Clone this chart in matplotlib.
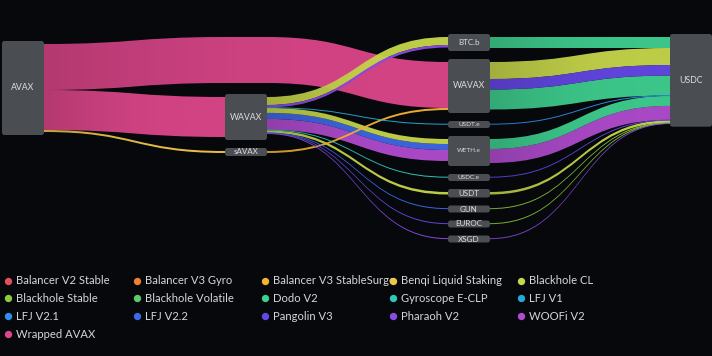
import matplotlib
matplotlib.use("Agg")
import numpy as np
import matplotlib.pyplot as plt
from matplotlib.patches import PathPatch, FancyBboxPatch, Rectangle
from matplotlib.path import Path
from matplotlib.colors import to_rgb

plt.rcParams['font.family'] = ['Lato', 'DejaVu Sans']

# ---------------- data ----------------
protocols = ["Balancer V2 Stable", "Balancer V3 Gyro", "Balancer V3 StableSurge",
             "Benqi Liquid Staking", "Blackhole CL", "Blackhole Stable",
             "Blackhole Volatile", "Dodo V2", "Gyroscope E-CLP", "LFJ V1",
             "LFJ V2.1", "LFJ V2.2", "Pangolin V3", "Pharaoh V2", "WOOFi V2",
             "Wrapped AVAX"]
protocol_colors = ["#e2505c", "#ef8034", "#f3b52f", "#f0c64a", "#c6d64a",
                   "#8bcb3c", "#5fca6a", "#3fcf8f", "#2fc9b8", "#2aa7d6",
                   "#2f8ef0", "#3f68e6", "#6547e6", "#8a4ce4", "#b04ccf",
                   "#dc468a"]

node_labels = ["AVAX", "WAVAX", "sAVAX", "BTC.b", "WAVAX", "USDT.e", "WETH.e",
               "USDC.e", "USDT", "GUN", "EUROC", "XSGD", "USDC"]
node_columns = [0, 1, 1, 2, 2, 2, 2, 2, 2, 2, 2, 2, 3]

link_sources = [0, 0, 0, 2, 1, 1, 1, 1, 1, 1, 1, 1, 1, 1, 1,
                3, 4, 4, 4, 5, 6, 6, 7, 8, 9, 10, 11]
link_targets = [4, 1, 2, 4, 3, 3, 5, 6, 6, 6, 7, 8, 9, 10, 11,
                12, 12, 12, 12, 12, 12, 12, 12, 12, 12, 12, 12]
link_protocols = ["Wrapped AVAX", "Wrapped AVAX", "Benqi Liquid Staking",
                  "Balancer V3 StableSurge",
                  "Blackhole CL", "Pharaoh V2", "LFJ V1", "Blackhole CL",
                  "LFJ V2.2", "WOOFi V2", "Gyroscope E-CLP", "Blackhole CL",
                  "LFJ V2.2", "Pangolin V3", "Pharaoh V2",
                  "Dodo V2", "Blackhole CL", "Pangolin V3", "Dodo V2",
                  "LFJ V2.1", "Dodo V2", "WOOFi V2", "Pangolin V3",
                  "Blackhole CL", "Blackhole Stable", "Blackhole Stable",
                  "Pharaoh V2"]
link_values = [460, 400, 20, 20, 80, 25, 4, 50, 60, 110, 4, 25, 3, 3, 3,
               110, 170, 105, 200, 4, 100, 140, 4, 25, 3, 3, 3]

# ---------------- layout ----------------
W, H = 712, 356
BG = "#06080b"
NODE_C = "#4a4d51"
scale = 0.1          # px per unit
pad = 3
min_h = 7
gap = 8
node_w = 42
col_x = [2, 225, 448, 670]
col_top = [41, 34, 34, 34]

pcolor = dict(zip(protocols, protocol_colors))
n = len(node_labels)
L = len(link_values)
inflow = [0.0] * n
outflow = [0.0] * n
for s, t, v in zip(link_sources, link_targets, link_values):
    outflow[s] += v
    inflow[t] += v

# stacking: dummy pass-through slots for long links first, then real nodes
cur = {c: col_top[c] for c in range(4)}
dummy = {}   # (link, column) -> y of flow top
for k in range(L):
    cs, ct = node_columns[link_sources[k]], node_columns[link_targets[k]]
    for c in range(cs + 1, ct):
        dummy[(k, c)] = cur[c] + pad
        cur[c] += link_values[k] * scale + 2 * pad + gap

node_y0 = [0.0] * n
node_h = [0.0] * n
for i in range(n):
    c = node_columns[i]
    h = max(max(inflow[i], outflow[i]) * scale + 2 * pad, min_h)
    node_y0[i] = cur[c]
    node_h[i] = h
    cur[c] += h + gap
node_x0 = [col_x[c] for c in node_columns]
node_x1 = [min(col_x[c] + node_w, W) for c in node_columns]
center = [node_y0[i] + node_h[i] / 2 for i in range(n)]


def first_hop_y(k, at_source):
    # vertical reference of the other end (dummy slot if present)
    s, t = link_sources[k], link_targets[k]
    cs, ct = node_columns[s], node_columns[t]
    if at_source:
        return dummy.get((k, cs + 1), center[t])
    return dummy.get((k, ct - 1), center[s])


src_y, tgt_y = {}, {}
for i in range(n):
    outs = sorted([k for k in range(L) if link_sources[k] == i],
                  key=lambda k: (first_hop_y(k, True), k))
    y = node_y0[i] + pad
    for k in outs:
        src_y[k] = y
        y += link_values[k] * scale
    ins = sorted([k for k in range(L) if link_targets[k] == i],
                 key=lambda k: (first_hop_y(k, False), k))
    y = node_y0[i] + pad
    for k in ins:
        tgt_y[k] = y
        y += link_values[k] * scale

fig = plt.figure(figsize=(W / 100, H / 100), dpi=100, facecolor=BG)
ax = fig.add_axes([0, 0, 1, 1])
ax.set_facecolor(BG)
ax.axis("off")

order = sorted(range(L), key=lambda k: -link_values[k])
for k in order:
    s, t = link_sources[k], link_targets[k]
    v = link_values[k] * scale
    w = max(v, 1.0)
    cs, ct = node_columns[s], node_columns[t]
    # waypoints: (x_in, x_out, y_center)
    pts = [(node_x1[s], node_x1[s], src_y[k] + v / 2)]
    for c in range(cs + 1, ct):
        pts.append((col_x[c], col_x[c] + node_w, dummy[(k, c)] + v / 2))
    pts.append((node_x0[t], node_x0[t], tgt_y[k] + v / 2))

    top = [(pts[0][1], pts[0][2] - w / 2)]
    codes = [Path.MOVETO]
    for a, b in zip(pts[:-1], pts[1:]):
        xa, xb = a[1], b[0]
        xm = (xa + xb) / 2
        ya, yb = a[2] - w / 2, b[2] - w / 2
        top += [(xm, ya), (xm, yb), (xb, yb)]
        codes += [Path.CURVE4] * 3
        if b[1] != b[0]:
            top.append((b[1], yb))
            codes.append(Path.LINETO)
    bot = [(pts[-1][0], pts[-1][2] + w / 2)]
    bcodes = [Path.LINETO]
    rp = pts[::-1]
    for a, b in zip(rp[:-1], rp[1:]):
        xa, xb = a[0], b[1]
        xm = (xa + xb) / 2
        ya, yb = a[2] + w / 2, b[2] + w / 2
        bot += [(xm, ya), (xm, yb), (xb, yb)]
        bcodes += [Path.CURVE4] * 3
        if b[1] != b[0]:
            bot.append((b[0], yb))
            bcodes.append(Path.LINETO)
    verts = top + bot + [top[0]]
    allcodes = codes + bcodes + [Path.CLOSEPOLY]
    patch = PathPatch(Path(verts, allcodes), facecolor="none",
                      edgecolor="none", transform=ax.transData)
    ax.add_patch(patch)

    base = np.array(to_rgb(pcolor[link_protocols[k]]))
    xs0, xs1 = pts[0][1], pts[-1][0]
    fr = np.linspace(0, 1, 64)
    shade = 0.86 + 0.14 * np.sin(np.clip(fr * 1.25, 0, 1) * np.pi / 2)
    grad = np.clip(base[None, :] * shade[:, None], 0, 1)[None, :, :]
    ys_all = [p[2] for p in pts]
    im = ax.imshow(grad, extent=(xs0, xs1, max(ys_all) + w, min(ys_all) - w),
                   aspect="auto", interpolation="bilinear", zorder=1, alpha=0.96)
    im.set_clip_path(patch)

small_labels = {"USDT.e", "USDC.e", "WETH.e"}
for i in range(n):
    w = node_x1[i] - node_x0[i]
    ax.add_patch(FancyBboxPatch((node_x0[i], node_y0[i]), w, node_h[i],
                                boxstyle="round,pad=0,rounding_size=2.5",
                                facecolor=NODE_C, edgecolor="none", zorder=3))
    lab = node_labels[i]
    if lab in small_labels:
        fs = 4.6
    elif node_h[i] > 40:
        fs = 6.3
    else:
        fs = 5.8
    ax.text(node_x0[i] + w / 2, center[i], lab, ha="center", va="center",
            fontsize=fs, color="#dcdcdc", zorder=4)

# legend
leg_x = [8, 137, 265, 393, 521]
leg_y = [281, 298, 316, 334]
for j, (p, c) in enumerate(zip(protocols, protocol_colors)):
    r, col = divmod(j, 5)
    x, y = leg_x[col], leg_y[r]
    ax.scatter([x], [y], s=28, color=c, zorder=6, linewidths=0)
    t = ax.text(x + 8, y, p, ha="left", va="center", fontsize=8.1,
                color="#d6d6d6", zorder=4)
    if col < 4:
        clip = Rectangle((x, y - 10), leg_x[col + 1] - x + 1, 20,
                         transform=ax.transData)
        t.set_clip_path(clip)

ax.set_xlim(0, W)
ax.set_ylim(H, 0)
fig.savefig("out.png", dpi=100, facecolor=BG)
